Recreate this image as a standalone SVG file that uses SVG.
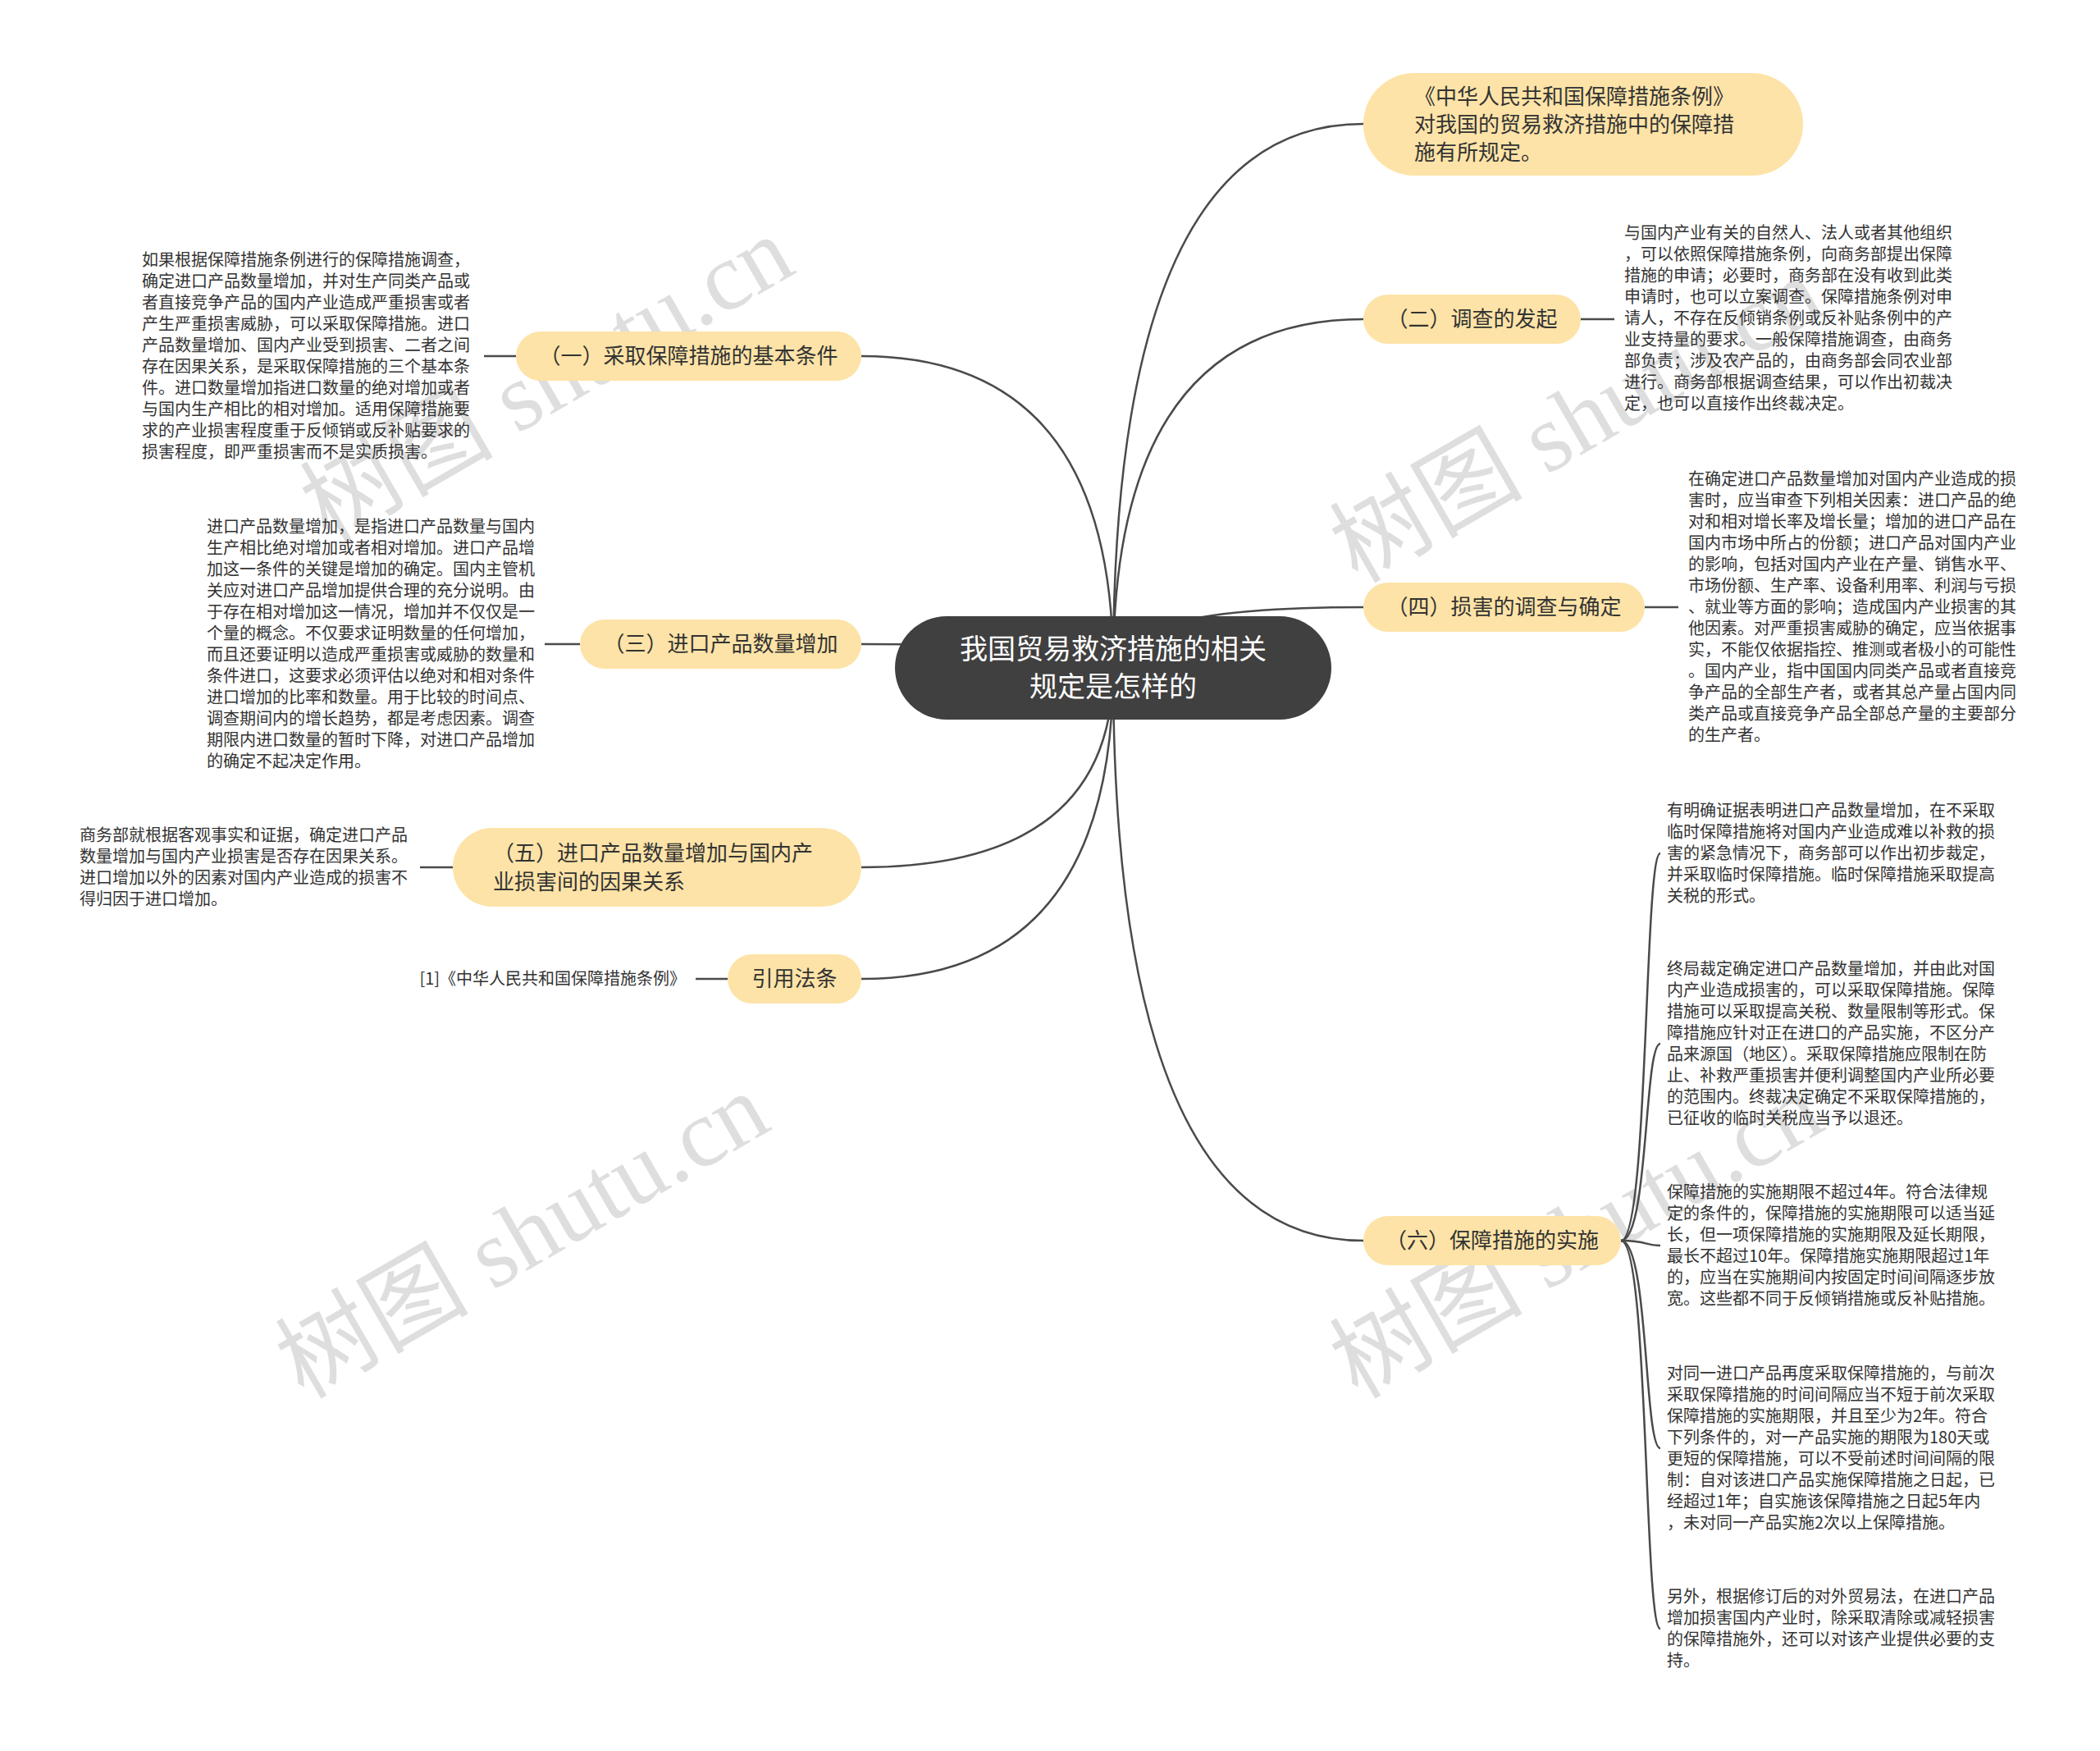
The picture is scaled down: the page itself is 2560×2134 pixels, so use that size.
<svg xmlns="http://www.w3.org/2000/svg" width="2560" height="2134" viewBox="0 0 2560 2134">
<style>
.bg{fill:#ffffff}
.wm{font-family:"Liberation Serif","Noto Sans CJK SC",serif;font-size:118px;fill:#000;fill-opacity:0.13}
.con{fill:none;stroke:#4a4a4a;stroke-width:2.5}
.node rect{fill:#fde3a7}
.nt{font-family:"Noto Sans CJK SC",sans-serif;font-size:26px;fill:#333}
.root rect{fill:#404040}
.rt{font-family:"Noto Sans CJK SC",sans-serif;font-size:34px;fill:#fff;text-anchor:middle}
.leaf{font-family:"Noto Sans CJK SC",sans-serif;font-size:20px;fill:#333}
</style>
<rect class="bg" x="0" y="0" width="2560" height="2134"/>
<g id="watermarks">
<text class="wm" x="400" y="662" transform="rotate(-30 400 662)">树图 shutu.cn</text>
<text class="wm" x="370" y="1706" transform="rotate(-30 370 1706)">树图 shutu.cn</text>
<text class="wm" x="1655" y="712" transform="rotate(-30 1655 712)">树图 shutu.cn</text>
<text class="wm" x="1655" y="1706" transform="rotate(-30 1655 1706)">树图 shutu.cn</text>
</g>
<g id="connectors">
<path class="con" d="M1357 814 Q1357 151 1662 151"/>
<path class="con" d="M1357 814 Q1357 389 1662 389"/>
<path class="con" d="M1357 814 Q1357 740 1662 740"/>
<path class="con" d="M1357 814 Q1357 1512 1662 1512"/>
<path class="con" d="M1357 814 Q1357 434 1050 434"/>
<path class="con" d="M1357 814 Q1357 785 1050 785"/>
<path class="con" d="M1357 814 Q1357 1057 1050 1057"/>
<path class="con" d="M1357 814 Q1357 1193 1050 1193"/>
<path class="con" d="M629 434 L590 434"/>
<path class="con" d="M1927 389 L1968 389"/>
<path class="con" d="M707 785 L664 785"/>
<path class="con" d="M2005 740 L2046 740"/>
<path class="con" d="M552 1057 L512 1057"/>
<path class="con" d="M887 1193 L848 1193"/>
<path class="con" d="M1976 1512 C2010 1512 2004 1040 2024 1040"/>
<path class="con" d="M1976 1512 C2010 1512 2004 1272 2024 1272"/>
<path class="con" d="M1976 1512 C2010 1512 2004 1518 2024 1518"/>
<path class="con" d="M1976 1512 C2010 1512 2004 1765 2024 1765"/>
<path class="con" d="M1976 1512 C2010 1512 2004 1985 2024 1985"/>
</g>
<g id="root" class="root">
<rect x="1091" y="751" width="532" height="126" rx="63"/>
<text class="rt"><tspan x="1357" y="803">我国贸易救济措施的相关</tspan><tspan x="1357" y="849">规定是怎样的</tspan></text>
</g>
<g id="n-law" class="node">
<rect x="1662" y="89" width="536" height="125" rx="62"/>
<text class="nt"><tspan x="1724" y="127">《中华人民共和国保障措施条例》</tspan><tspan x="1724" y="161">对我国的贸易救济措施中的保障措</tspan><tspan x="1724" y="195">施有所规定。</tspan></text>
</g>
<g id="n2" class="node">
<rect x="1662" y="359" width="265" height="60" rx="30"/>
<text class="nt" x="1794.5" y="398" text-anchor="middle">（二）调查的发起</text>
</g>
<g id="n1" class="node">
<rect x="629" y="404" width="421" height="60" rx="30"/>
<text class="nt" x="839.5" y="443" text-anchor="middle">（一）采取保障措施的基本条件</text>
</g>
<g id="n3" class="node">
<rect x="707" y="755" width="343" height="60" rx="30"/>
<text class="nt" x="878.5" y="794" text-anchor="middle">（三）进口产品数量增加</text>
</g>
<g id="n4" class="node">
<rect x="1662" y="710" width="343" height="60" rx="30"/>
<text class="nt" x="1833.5" y="749" text-anchor="middle">（四）损害的调查与确定</text>
</g>
<g id="n5" class="node">
<rect x="552" y="1009" width="498" height="96" rx="48"/>
<text class="nt"><tspan x="601" y="1049">（五）进口产品数量增加与国内产</tspan><tspan x="601" y="1084">业损害间的因果关系</tspan></text>
</g>
<g id="n-ref" class="node">
<rect x="887" y="1163" width="163" height="60" rx="30"/>
<text class="nt" x="968.5" y="1202" text-anchor="middle">引用法条</text>
</g>
<g id="n6" class="node">
<rect x="1662" y="1482" width="314" height="60" rx="30"/>
<text class="nt" x="1819" y="1521" text-anchor="middle">（六）保障措施的实施</text>
</g>
<g id="t1">
<text class="leaf"><tspan x="173" y="324">如果根据保障措施条例进行的保障措施调查，</tspan><tspan x="173" y="350">确定进口产品数量增加，并对生产同类产品或</tspan><tspan x="173" y="376">者直接竞争产品的国内产业造成严重损害或者</tspan><tspan x="173" y="402">产生严重损害威胁，可以采取保障措施。进口</tspan><tspan x="173" y="428">产品数量增加、国内产业受到损害、二者之间</tspan><tspan x="173" y="454">存在因果关系，是采取保障措施的三个基本条</tspan><tspan x="173" y="480">件。进口数量增加指进口数量的绝对增加或者</tspan><tspan x="173" y="506">与国内生产相比的相对增加。适用保障措施要</tspan><tspan x="173" y="532">求的产业损害程度重于反倾销或反补贴要求的</tspan><tspan x="173" y="558">损害程度，即严重损害而不是实质损害。</tspan></text>
</g>
<g id="t2">
<text class="leaf"><tspan x="1980" y="291">与国内产业有关的自然人、法人或者其他组织</tspan><tspan x="1980" y="317">，可以依照保障措施条例，向商务部提出保障</tspan><tspan x="1980" y="343">措施的申请；必要时，商务部在没有收到此类</tspan><tspan x="1980" y="369">申请时，也可以立案调查。保障措施条例对申</tspan><tspan x="1980" y="395">请人，不存在反倾销条例或反补贴条例中的产</tspan><tspan x="1980" y="421">业支持量的要求。一般保障措施调查，由商务</tspan><tspan x="1980" y="447">部负责；涉及农产品的，由商务部会同农业部</tspan><tspan x="1980" y="473">进行。商务部根据调查结果，可以作出初裁决</tspan><tspan x="1980" y="499">定，也可以直接作出终裁决定。</tspan></text>
</g>
<g id="t3">
<text class="leaf"><tspan x="252" y="649">进口产品数量增加，是指进口产品数量与国内</tspan><tspan x="252" y="675">生产相比绝对增加或者相对增加。进口产品增</tspan><tspan x="252" y="701">加这一条件的关键是增加的确定。国内主管机</tspan><tspan x="252" y="727">关应对进口产品增加提供合理的充分说明。由</tspan><tspan x="252" y="753">于存在相对增加这一情况，增加并不仅仅是一</tspan><tspan x="252" y="779">个量的概念。不仅要求证明数量的任何增加，</tspan><tspan x="252" y="805">而且还要证明以造成严重损害或威胁的数量和</tspan><tspan x="252" y="831">条件进口，这要求必须评估以绝对和相对条件</tspan><tspan x="252" y="857">进口增加的比率和数量。用于比较的时间点、</tspan><tspan x="252" y="883">调查期间内的增长趋势，都是考虑因素。调查</tspan><tspan x="252" y="909">期限内进口数量的暂时下降，对进口产品增加</tspan><tspan x="252" y="935">的确定不起决定作用。</tspan></text>
</g>
<g id="t4">
<text class="leaf"><tspan x="2058" y="591">在确定进口产品数量增加对国内产业造成的损</tspan><tspan x="2058" y="617">害时，应当审查下列相关因素：进口产品的绝</tspan><tspan x="2058" y="643">对和相对增长率及增长量；增加的进口产品在</tspan><tspan x="2058" y="669">国内市场中所占的份额；进口产品对国内产业</tspan><tspan x="2058" y="695">的影响，包括对国内产业在产量、销售水平、</tspan><tspan x="2058" y="721">市场份额、生产率、设备利用率、利润与亏损</tspan><tspan x="2058" y="747">、就业等方面的影响；造成国内产业损害的其</tspan><tspan x="2058" y="773">他因素。对严重损害威胁的确定，应当依据事</tspan><tspan x="2058" y="799">实，不能仅依据指控、推测或者极小的可能性</tspan><tspan x="2058" y="825">。国内产业，指中国国内同类产品或者直接竞</tspan><tspan x="2058" y="851">争产品的全部生产者，或者其总产量占国内同</tspan><tspan x="2058" y="877">类产品或直接竞争产品全部总产量的主要部分</tspan><tspan x="2058" y="903">的生产者。</tspan></text>
</g>
<g id="t5">
<text class="leaf"><tspan x="97" y="1025">商务部就根据客观事实和证据，确定进口产品</tspan><tspan x="97" y="1051">数量增加与国内产业损害是否存在因果关系。</tspan><tspan x="97" y="1077">进口增加以外的因素对国内产业造成的损害不</tspan><tspan x="97" y="1103">得归因于进口增加。</tspan></text>
</g>
<g id="t-ref">
<text class="leaf" x="836" y="1200" text-anchor="end">[1]《中华人民共和国保障措施条例》</text>
</g>
<g id="t6a">
<text class="leaf"><tspan x="2032" y="995">有明确证据表明进口产品数量增加，在不采取</tspan><tspan x="2032" y="1021">临时保障措施将对国内产业造成难以补救的损</tspan><tspan x="2032" y="1047">害的紧急情况下，商务部可以作出初步裁定，</tspan><tspan x="2032" y="1073">并采取临时保障措施。临时保障措施采取提高</tspan><tspan x="2032" y="1099">关税的形式。</tspan></text>
</g>
<g id="t6b">
<text class="leaf"><tspan x="2032" y="1188">终局裁定确定进口产品数量增加，并由此对国</tspan><tspan x="2032" y="1214">内产业造成损害的，可以采取保障措施。保障</tspan><tspan x="2032" y="1240">措施可以采取提高关税、数量限制等形式。保</tspan><tspan x="2032" y="1266">障措施应针对正在进口的产品实施，不区分产</tspan><tspan x="2032" y="1292">品来源国（地区）。采取保障措施应限制在防</tspan><tspan x="2032" y="1318">止、补救严重损害并便利调整国内产业所必要</tspan><tspan x="2032" y="1344">的范围内。终裁决定确定不采取保障措施的，</tspan><tspan x="2032" y="1370">已征收的临时关税应当予以退还。</tspan></text>
</g>
<g id="t6c">
<text class="leaf"><tspan x="2032" y="1460">保障措施的实施期限不超过4年。符合法律规</tspan><tspan x="2032" y="1486">定的条件的，保障措施的实施期限可以适当延</tspan><tspan x="2032" y="1512">长，但一项保障措施的实施期限及延长期限，</tspan><tspan x="2032" y="1538">最长不超过10年。保障措施实施期限超过1年</tspan><tspan x="2032" y="1564">的，应当在实施期间内按固定时间间隔逐步放</tspan><tspan x="2032" y="1590">宽。这些都不同于反倾销措施或反补贴措施。</tspan></text>
</g>
<g id="t6d">
<text class="leaf"><tspan x="2032" y="1681">对同一进口产品再度采取保障措施的，与前次</tspan><tspan x="2032" y="1707">采取保障措施的时间间隔应当不短于前次采取</tspan><tspan x="2032" y="1733">保障措施的实施期限，并且至少为2年。符合</tspan><tspan x="2032" y="1759">下列条件的，对一产品实施的期限为180天或</tspan><tspan x="2032" y="1785">更短的保障措施，可以不受前述时间间隔的限</tspan><tspan x="2032" y="1811">制：自对该进口产品实施保障措施之日起，已</tspan><tspan x="2032" y="1837">经超过1年；自实施该保障措施之日起5年内</tspan><tspan x="2032" y="1863">，未对同一产品实施2次以上保障措施。</tspan></text>
</g>
<g id="t6e">
<text class="leaf"><tspan x="2032" y="1953">另外，根据修订后的对外贸易法，在进口产品</tspan><tspan x="2032" y="1979">增加损害国内产业时，除采取清除或减轻损害</tspan><tspan x="2032" y="2005">的保障措施外，还可以对该产业提供必要的支</tspan><tspan x="2032" y="2031">持。</tspan></text>
</g>
</svg>
